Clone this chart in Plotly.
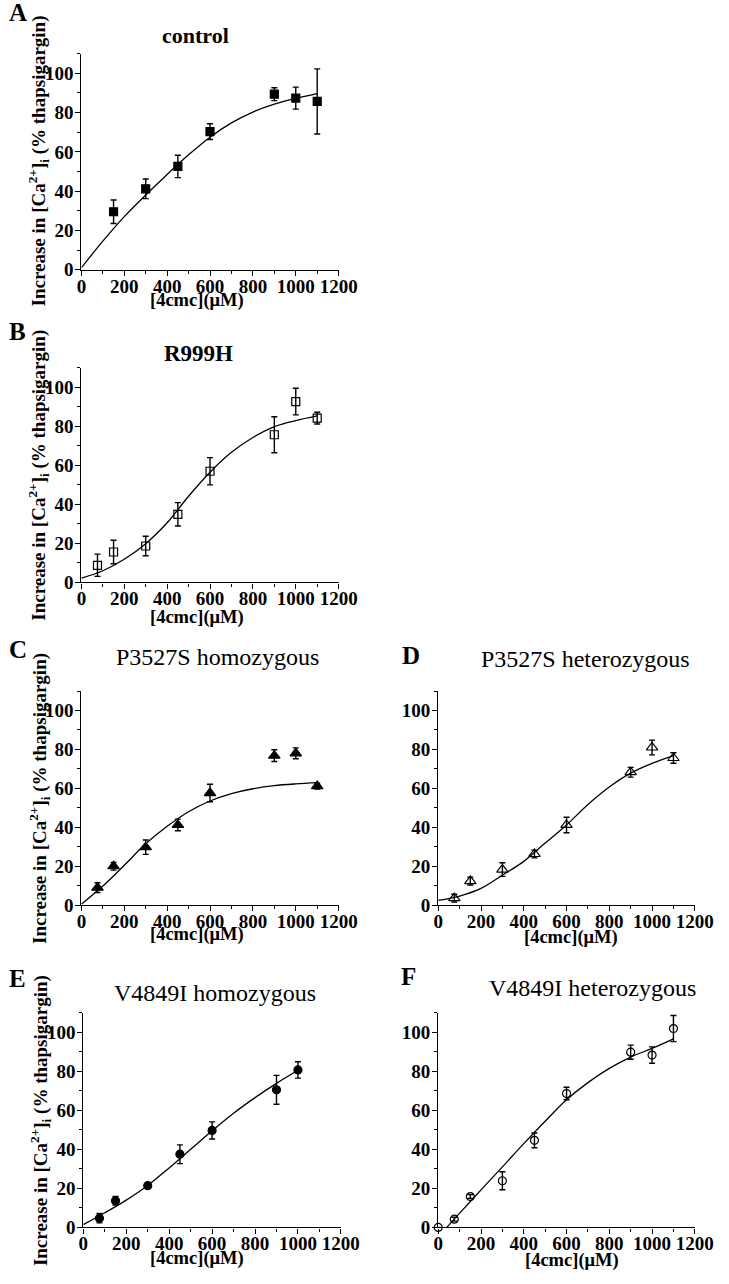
import plotly.graph_objects as go

W, H = 729, 1284

# ---------------- data ----------------
# Panel A: control (filled squares)
a_x = [150, 300, 450, 600, 900, 1000, 1100]
a_y = [29.5, 41.2, 52.6, 70.3, 89.4, 87.4, 85.7]
a_err = [6.0, 5.0, 5.7, 4.0, 3.3, 5.6, 16.6]
a_fit_x = [0, 100, 200, 300, 400, 500, 600, 700, 800, 900, 1000, 1100]
a_fit_y = [1.0, 14.5, 27.0, 38.0, 48.5, 58.5, 67.5, 74.8, 80.3, 84.3, 87.3, 89.7]

# Panel B: R999H (open squares)
b_x = [75, 150, 300, 450, 600, 900, 1000, 1100]
b_y = [8.8, 15.6, 18.7, 34.9, 57.0, 75.7, 92.7, 84.2]
b_err = [5.7, 6.0, 5.0, 6.0, 7.0, 9.2, 6.8, 3.0]
b_fit_x = [0, 100, 200, 300, 400, 500, 600, 700, 800, 900, 1000, 1100]
b_fit_y = [2.2, 6.0, 11.9, 19.9, 30.6, 44.2, 56.5, 66.7, 74.3, 79.9, 83.0, 85.4]

# Panel C: P3527S homozygous (filled triangles)
c_x = [75, 150, 300, 450, 600, 900, 1000, 1100]
c_y = [9.0, 20.0, 29.8, 41.2, 57.6, 76.8, 78.0, 61.2]
c_err = [2.5, 2.0, 3.7, 3.0, 4.5, 3.0, 2.8, 1.5]
c_fit_x = [0, 100, 200, 300, 400, 500, 600, 700, 800, 900, 1000, 1100]
c_fit_y = [0.5, 9.8, 20.5, 31.5, 40.5, 48.0, 53.5, 57.3, 59.8, 61.4, 62.3, 62.9]

# Panel D: P3527S heterozygous (open triangles)
d_x = [75, 150, 300, 450, 600, 900, 1000, 1100]
d_y = [3.6, 12.4, 18.3, 26.3, 41.2, 68.3, 81.0, 75.6]
d_err = [2.0, 2.0, 3.5, 2.0, 4.0, 2.5, 3.8, 2.7]
d_fit_x = [0, 100, 200, 300, 400, 500, 600, 700, 800, 900, 1000, 1100]
d_fit_y = [2.5, 4.7, 8.6, 15.4, 22.5, 31.9, 41.2, 51.7, 60.7, 67.8, 72.8, 76.8]

# Panel E: V4849I homozygous (filled circles)
e_x = [75, 150, 300, 450, 600, 900, 1000]
e_y = [4.7, 13.7, 21.4, 37.5, 49.7, 70.5, 80.7]
e_err = [2.4, 2.2, 1.0, 4.8, 4.4, 7.4, 4.2]
e_fit_x = [0, 100, 200, 300, 400, 500, 600, 700, 800, 900, 1000]
e_fit_y = [1.4, 7.5, 14.0, 21.5, 30.5, 40.0, 49.5, 58.5, 66.5, 73.8, 80.5]

# Panel F: V4849I heterozygous (open circles)
f_x = [0, 75, 150, 300, 450, 600, 900, 1000, 1100]
f_y = [0.0, 4.2, 15.8, 23.9, 44.6, 68.6, 89.8, 88.3, 101.9]
f_err = [0.0, 1.0, 1.0, 4.6, 3.8, 3.2, 3.6, 4.2, 6.7]
f_fit_x = [40, 100, 200, 300, 400, 500, 600, 700, 800, 900, 1000, 1100]
f_fit_y = [0.0, 7.3, 19.2, 31.0, 42.9, 54.4, 65.4, 74.2, 81.5, 87.3, 91.7, 96.6]

x_tick_vals = [0, 200, 400, 600, 800, 1000, 1200]
y_tick_vals = [0, 20, 40, 60, 80, 100]

panel_titles = ["control", "R999H", "P3527S homozygous", "P3527S heterozygous",
                "V4849I homozygous", "V4849I heterozygous"]
panel_letters = ["A", "B", "C", "D", "E", "F"]
y_title = "Increase in [Ca<sup>2+</sup>]<sub>i</sub> (% thapsigargin)"
x_title = "[4cmc](\u03bcM)"

# ---------------- layout helpers ----------------
SERIF = "Liberation Serif"


def px_x(p):
    return p / W


def px_y(p):
    return 1 - p / H


# axes boxes in pixels: (left, right, top, bottom)
boxes = [
    (79, 345, 54.2, 272),
    (79, 345, 371, 587.5),
    (79, 345, 697, 913),
    (448, 713.3, 697, 913),
    (81, 347.3, 1021.5, 1238),
    (448, 713.3, 1021.5, 1238),
]

panels = [
    (a_x, a_y, a_err, a_fit_x, a_fit_y, "square", 8),
    (b_x, b_y, b_err, b_fit_x, b_fit_y, "square-open", 8),
    (c_x, c_y, c_err, c_fit_x, c_fit_y, "triangle-up", 10),
    (d_x, d_y, d_err, d_fit_x, d_fit_y, "triangle-up-open", 10),
    (e_x, e_y, e_err, e_fit_x, e_fit_y, "circle", 8),
    (f_x, f_y, f_err, f_fit_x, f_fit_y, "circle-open", 8),
]

fig = go.Figure()
layout = dict(
    width=W, height=H,
    margin=dict(l=0, r=0, t=0, b=0),
    paper_bgcolor="white", plot_bgcolor="white",
    showlegend=False,
    font=dict(family=SERIF, color="black"),
)

TICKFONT = dict(family=SERIF, size=19, color="black", weight="bold")

for i, (px, py, pe, fx, fy, sym, msz) in enumerate(panels):
    n = "" if i == 0 else str(i + 1)
    xa, ya = "x" + n, "y" + n
    fig.add_trace(go.Scatter(
        x=fx, y=fy, xaxis=xa, yaxis=ya, mode="lines",
        line=dict(color="black", width=1.3, shape="spline", smoothing=1.0),
        hoverinfo="skip",
    ))
    fig.add_trace(go.Scatter(
        x=px, y=py, xaxis=xa, yaxis=ya, mode="markers",
        marker=dict(symbol=sym, size=msz, color="black",
                    line=dict(color="black", width=1.2)),
        error_y=dict(type="data", array=pe, visible=True, color="black",
                     thickness=1.4, width=3),
        cliponaxis=False,
    ))
    l, r, t, b = boxes[i]
    axis_common = dict(
        showline=True, linecolor="black", linewidth=1.3,
        ticks="outside", ticklen=5, tickwidth=1.3, tickcolor="black",
        showgrid=False, zeroline=False,
        tickfont=TICKFONT,
        fixedrange=True,
    )
    layout["xaxis" + n] = dict(
        axis_common, domain=[px_x(l), px_x(r)], anchor=ya, range=[0, 1200],
        tickvals=x_tick_vals, ticklabelstandoff=-6,
        minor=dict(ticks="outside", ticklen=3, tickwidth=1.1, tickcolor="black", dtick=100, tick0=0),
    )
    layout["yaxis" + n] = dict(
        axis_common, domain=[px_y(b), px_y(t)], anchor=xa, range=[0, 110],
        tickvals=y_tick_vals, ticklabelstandoff=-2,
        minor=dict(ticks="outside", ticklen=3, tickwidth=1.1, tickcolor="black", dtick=10, tick0=0),
    )

annotations = []


def ann(text, x, y, size, bold=False, angle=0):
    annotations.append(dict(
        text=text, x=px_x(x), y=px_y(y), xref="paper", yref="paper",
        showarrow=False, textangle=angle, xanchor="center", yanchor="middle",
        font=dict(family=SERIF, size=size, color="black",
                  weight="bold" if bold else "normal"),
    ))


# panel letters
letter_pos = [(13, 13), (13, 334), (13, 655), (420, 661), (13, 987), (417, 985)]
for L, (x, y) in zip(panel_letters, letter_pos):
    ann(L, x, y, 25, bold=True)

# panel titles
title_pos = [(197, 36), (200, 357), (220, 663), (600, 665), (217, 1002), (608, 997)]
title_bold = [True, True, False, False, False, False]
title_size = [22, 23, 24, 24, 24, 24]
for T, (x, y), bb, s in zip(panel_titles, title_pos, title_bold, title_size):
    ann(T, x, y, s, bold=bb)

# x-axis titles
for (x, y) in [(199, 303), (199, 623), (199, 943), (585, 946), (199, 1269), (586, 1271)]:
    ann(x_title, x, y, 18.5, bold=True)

# y-axis titles (left column only)
for (x, y) in [(35, 162), (35, 479), (35, 805), (37, 1130)]:
    ann(y_title, x, y, 19, bold=True, angle=-90)

layout["annotations"] = annotations
fig.update_layout(**layout)
fig.write_html("out.html", config={"displayModeBar": False},
               post_script="document.body.style.margin='0px';")
